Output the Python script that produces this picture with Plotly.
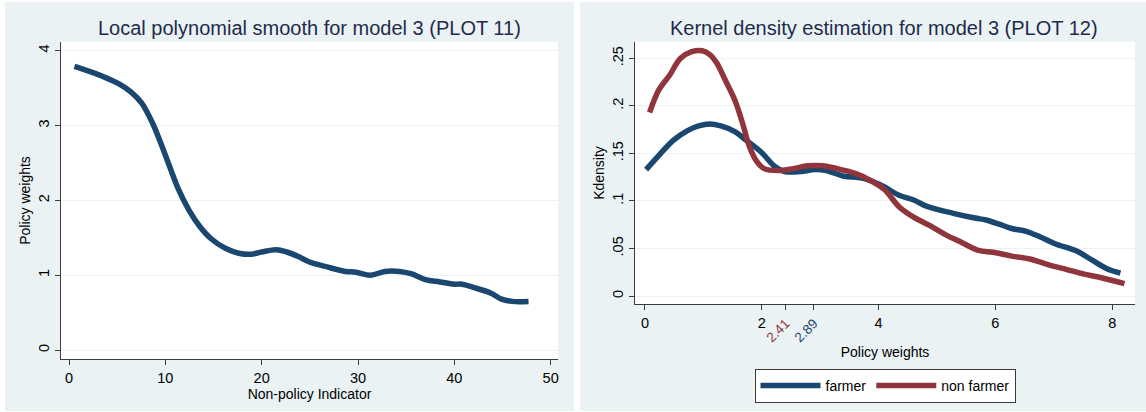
import plotly.graph_objects as go

# ---------------- data ----------------
# Left panel: local polynomial smooth
lp_x = [0.57, 2.64, 4.15, 5.28, 6.42, 7.55, 8.68, 9.81, 10.57, 11.32, 12.45, 13.58,
        14.72, 16.23, 17.74, 18.9, 20.0, 21.5, 22.6, 23.8, 24.9, 26.8, 28.7, 29.8,
        31.3, 32.8, 34.3, 35.5, 37.0, 38.5, 40.0, 40.8, 41.9, 43.8, 44.9, 46.0, 47.7]
lp_y = [3.79, 3.70, 3.62, 3.55, 3.45, 3.30, 3.03, 2.67, 2.41, 2.16, 1.87, 1.65,
        1.49, 1.36, 1.29, 1.28, 1.31, 1.34, 1.31, 1.25, 1.18, 1.11, 1.05, 1.04,
        1.00, 1.05, 1.05, 1.02, 0.94, 0.91, 0.88, 0.88, 0.84, 0.76, 0.68, 0.65, 0.65]

# Right panel: kernel densities
farmer_x = [0.02, 0.24, 0.49, 0.73, 0.92, 1.11, 1.30, 1.54, 1.73, 1.98, 2.23, 2.39,
            2.67, 2.91, 3.10, 3.41, 3.72, 4.03, 4.35, 4.60, 4.84, 5.28, 5.65, 5.84,
            6.09, 6.28, 6.53, 6.77, 7.02, 7.40, 7.65, 7.90, 8.14]
farmer_y = [0.133, 0.148, 0.164, 0.174, 0.179, 0.181, 0.179, 0.173, 0.164, 0.152, 0.136, 0.131,
            0.131, 0.133, 0.132, 0.126, 0.124, 0.117, 0.106, 0.101, 0.094, 0.087, 0.082, 0.080,
            0.075, 0.071, 0.068, 0.062, 0.055, 0.047, 0.038, 0.029, 0.024]
nonfarmer_x = [0.08, 0.24, 0.42, 0.61, 0.80, 0.98, 1.11, 1.23, 1.36, 1.54, 1.67, 1.79,
               1.92, 2.04, 2.29, 2.54, 2.79, 3.04, 3.29, 3.60, 3.85, 4.10, 4.35, 4.60,
               4.91, 5.16, 5.40, 5.71, 5.96, 6.28, 6.59, 6.90, 7.21, 7.52, 7.83, 8.21]
nonfarmer_y = [0.193, 0.217, 0.232, 0.250, 0.257, 0.258, 0.254, 0.245, 0.229, 0.206, 0.182, 0.157,
               0.141, 0.134, 0.132, 0.134, 0.137, 0.137, 0.134, 0.129, 0.122, 0.112, 0.094, 0.083,
               0.073, 0.064, 0.057, 0.048, 0.046, 0.042, 0.039, 0.033, 0.028, 0.023, 0.019, 0.013]

left_xticks = [0, 10, 20, 30, 40, 50]
left_yticks = [0, 1, 2, 3, 4]
right_xticks = [0, 2, 4, 6, 8]
right_yticks = [0, 0.05, 0.1, 0.15, 0.2, 0.25]
right_yticklabels = ["0", ".05", ".1", ".15", ".2", ".25"]
mean_nonfarmer = 2.41
mean_farmer = 2.89

left_title = "Local polynomial smooth for model 3 (PLOT 11)"
right_title = "Kernel density estimation for model 3 (PLOT 12)"

# ---------------- style ----------------
W, H = 1146, 412
BG = "#eaf2f3"
NAVY = "#1a476f"
MAROON = "#90353b"
AXC = "#3c3c3c"
FONT = "Liberation Sans, Arial, sans-serif"
TITLEC = "#1e2c4c"
LW = 5.5
TICKFS = 14.5

def px(xp):
    return xp / W

def py(yp):
    return 1 - yp / H

fig = go.Figure()

fig.add_trace(go.Scatter(x=lp_x, y=lp_y, mode="lines", line=dict(color=NAVY, width=LW, shape="spline"),
                         showlegend=False, xaxis="x", yaxis="y"))
fig.add_trace(go.Scatter(x=farmer_x, y=farmer_y, mode="lines", name="farmer",
                         line=dict(color=NAVY, width=LW, shape="spline"), xaxis="x2", yaxis="y2"))
# non farmer curve drawn on an overlaid x axis (same range) that carries the mean ticks
fig.add_trace(go.Scatter(x=nonfarmer_x, y=nonfarmer_y, mode="lines", name="non farmer",
                         line=dict(color=MAROON, width=LW, shape="spline"), xaxis="x3", yaxis="y2"))

common_x = dict(showline=True, linecolor=AXC, linewidth=1, ticks="outside", ticklen=5, tickcolor=AXC,
                showgrid=False, zeroline=False, tickfont=dict(size=TICKFS, color="black", family=FONT))
common_y = dict(showline=True, linecolor=AXC, linewidth=1, ticks="outside", ticklen=5, tickcolor=AXC,
                showgrid=True, gridcolor=BG, gridwidth=1, zeroline=True, zerolinecolor=BG, zerolinewidth=1,
                tickangle=-90, tickfont=dict(size=TICKFS, color="black", family=FONT))

left_dom_x = [px(61), px(558)]
left_dom_y = [py(359.3), py(41.7)]
right_dom_x = [px(635), px(1135)]
right_dom_y = [py(304.3), py(41.7)]
right_xrange = [-0.17, 8.39]

mean_ticktext = [f"<span style='color:{MAROON}'>{mean_nonfarmer:.2f}</span>",
                 f"<span style='color:{NAVY}'>{mean_farmer:.2f}</span>"]

white_strip = dict(type="rect", xref="paper", yref="paper", fillcolor="white",
                   line=dict(width=0), layer="below")

fig.update_layout(
    width=W, height=H,
    margin=dict(l=0, r=0, t=0, b=0),
    paper_bgcolor=BG, plot_bgcolor="white",
    font=dict(family=FONT, size=14, color="black"),
    xaxis=dict(domain=left_dom_x, anchor="y", range=[-0.83, 50.76], tickvals=left_xticks,
               title=dict(text="Non-policy Indicator", standoff=0, font=dict(size=14)), **common_x),
    yaxis=dict(domain=left_dom_y, anchor="x", range=[-0.124, 4.12], tickvals=left_yticks,
               title=dict(text="Policy weights", standoff=2, font=dict(size=14)), **common_y),
    xaxis2=dict(domain=right_dom_x, anchor="y2", range=right_xrange, tickvals=right_xticks,
                title=dict(text="Policy weights", standoff=17, font=dict(size=14)), **common_x),
    yaxis2=dict(domain=right_dom_y, anchor="x2", range=[-0.0087, 0.2675], tickvals=right_yticks,
                ticktext=right_yticklabels,
                title=dict(text="Kdensity", standoff=2, font=dict(size=14)), **common_y),
    xaxis3=dict(domain=right_dom_x, anchor="y2", overlaying="x2", range=right_xrange,
                tickvals=[mean_nonfarmer, mean_farmer], ticktext=mean_ticktext, tickangle=-45,
                showline=False, showgrid=False, zeroline=False, ticks="outside", ticklen=5,
                tickcolor=AXC, tickfont=dict(size=13.5, family=FONT)),
    legend=dict(orientation="h", x=px(885), xanchor="center", y=py(369), yanchor="top",
                bgcolor="white", bordercolor=AXC, borderwidth=1,
                font=dict(size=14, color="black", family=FONT), itemwidth=60),
    shapes=[
        dict(white_strip, x0=px(574), x1=px(580), y0=0, y1=1),
        dict(white_strip, x0=0, x1=px(5), y0=0, y1=1),
        dict(white_strip, x0=0, x1=1, y0=py(2), y1=1),
        dict(white_strip, x0=0, x1=1, y0=0, y1=py(411)),
    ],
    annotations=[
        dict(text=left_title, xref="paper", yref="paper", x=px(309), y=py(28), xanchor="center",
             yanchor="middle", showarrow=False, font=dict(size=20, color=TITLEC, family=FONT)),
        dict(text=right_title, xref="paper", yref="paper", x=px(884), y=py(28), xanchor="center",
             yanchor="middle", showarrow=False, font=dict(size=20, color=TITLEC, family=FONT)),
    ],
)

fig.write_html("out.html", config={"displayModeBar": False},
               post_script="document.body.style.margin='0';document.body.style.overflow='hidden';")
